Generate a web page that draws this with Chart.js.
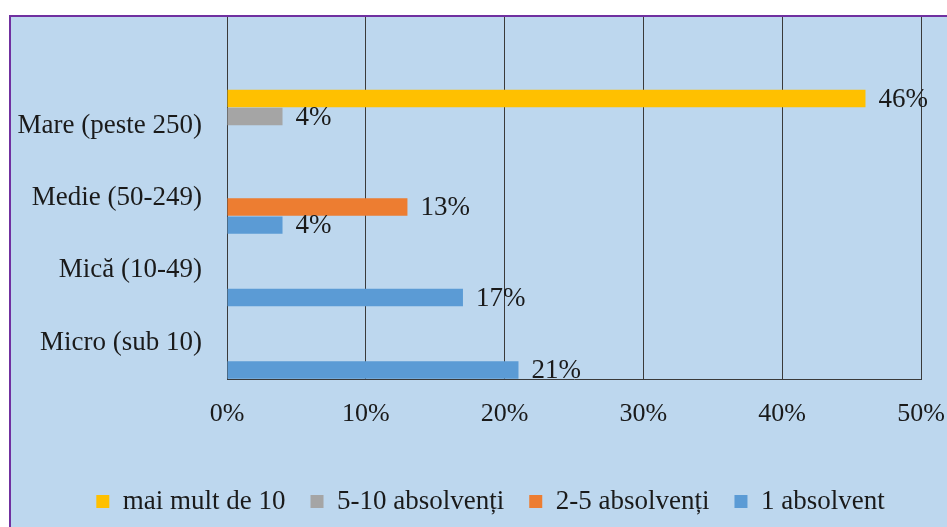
<!DOCTYPE html>
<html>
<head>
<meta charset="utf-8">
<script src="https://cdn.jsdelivr.net/npm/chart.js@4/dist/chart.umd.min.js"></script>
<style>
  html, body { margin: 0; padding: 0; background: #ffffff; overflow: hidden; }
  body { width: 947px; height: 527px; position: relative; }
  #frame {
    position: absolute; left: 9px; top: 15px; width: 960px; height: 540px;
    background: #bdd7ee; border-left: 2px solid #7030a0; border-top: 2px solid #7030a0;
  }
  #wrap { position: absolute; left: 0; top: 0; width: 947px; height: 527px; }
</style>
</head>
<body>
<div id="frame"></div>
<div id="wrap"><canvas id="sizeChart"></canvas></div>
<script>
// company size groups (top row left blank, as in the sheet)
var categories = ['', 'Mare (peste 250)', 'Medie (50-249)', 'Mică (10-49)', 'Micro (sub 10)'];

var seriesNames = ['mai mult de 10', '5-10 absolvenți', '2-5 absolvenți', '1 absolvent'];
var seriesColors = ['#ffc000', '#a5a5a5', '#ed7d31', '#5b9bd5'];

// share of companies, %
var maiMultDe10 = [null, 46, null, null, null];
var intre5si10  = [null, 4, null, null, null];
var intre2si5   = [null, null, 13, null, null];
var unAbsolvent = [null, null, 4, 17, 21];

var xTicks = [0, 10, 20, 30, 40, 50];

var serif = "'Liberation Serif', 'Times New Roman', serif";

// percentage labels to the right of each bar
var valueLabels = {
    id: 'valueLabels',
    afterDatasetsDraw: function(chart) {
        var ctx = chart.ctx;
        ctx.save();
        ctx.font = '27px ' + serif;
        ctx.fillStyle = '#1a1a1a';
        ctx.textAlign = 'left';
        ctx.textBaseline = 'middle';
        chart.data.datasets.forEach(function(ds, i) {
            var meta = chart.getDatasetMeta(i);
            meta.data.forEach(function(bar, j) {
                var v = ds.data[j];
                if (v === null || v === undefined) return;
                ctx.fillText(v + '%', bar.x + 13, bar.y + 1);
            });
        });
        ctx.restore();
    }
};

// nudge the legend row a bit to the right of the canvas centre
var legendShift = {
    id: 'legendShift',
    afterLayout: function(chart) {
        if (chart.legend) {
            chart.legend.left += 25;
            chart.legend.right += 25;
        }
    }
};

var seriesData = [maiMultDe10, intre5si10, intre2si5, unAbsolvent];

new Chart(document.getElementById('sizeChart'), {
    type: 'bar',
    data: {
        labels: categories,
        datasets: seriesData.map(function(values, i) {
            return {
                label: seriesNames[i],
                data: values,
                backgroundColor: seriesColors[i],
                borderWidth: 0,
                categoryPercentage: 1,
                barPercentage: 0.96
            };
        })
    },
    options: {
        indexAxis: 'y',
        responsive: true,
        maintainAspectRatio: false,
        animation: false,
        layout: { padding: { left: 10, right: 26, top: 17, bottom: 2 } },
        scales: {
            x: {
                min: 0,
                max: 50,
                afterBuildTicks: function(scale) {
                    scale.ticks = xTicks.map(function(v) { return { value: v }; });
                },
                afterFit: function(scale) {
                    scale.height = 84;
                    scale.paddingLeft = 0;
                    scale.paddingRight = 0;
                },
                ticks: {
                    padding: 20,
                    color: '#1a1a1a',
                    font: { size: 26, family: serif },
                    maxRotation: 0,
                    callback: function(v) { return v + '%'; }
                },
                grid: { color: '#3a3a3a', lineWidth: 1, drawTicks: false },
                border: { display: true, color: '#3a3a3a', width: 1 }
            },
            y: {
                afterFit: function(scale) {
                    scale.width = 217;
                    scale.paddingTop = 0;
                    scale.paddingBottom = 0;
                },
                ticks: {
                    padding: 25,
                    color: '#1a1a1a',
                    font: { size: 27, family: serif }
                },
                grid: { display: false, drawTicks: false },
                border: { display: true, color: '#3a3a3a', width: 1 }
            }
        },
        plugins: {
            legend: {
                position: 'bottom',
                labels: {
                    boxWidth: 13,
                    boxHeight: 13,
                    padding: 25,
                    color: '#1a1a1a',
                    font: { size: 27, family: serif }
                }
            },
            tooltip: { enabled: false }
        }
    },
    plugins: [valueLabels, legendShift]
});
</script>
</body>
</html>
